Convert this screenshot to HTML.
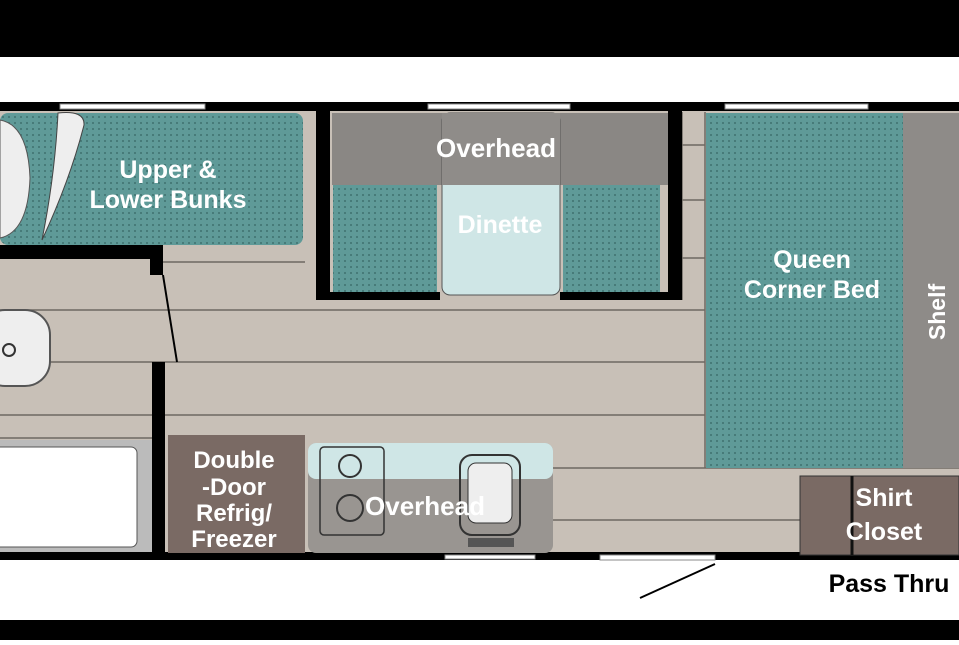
<!DOCTYPE html>
<html><head><meta charset="utf-8"><style>
body{margin:0;width:959px;height:640px;overflow:hidden;background:#fff}
text{font-family:"Liberation Sans",sans-serif;font-weight:bold}
</style></head><body>
<svg width="959" height="640" viewBox="0 0 959 640" xmlns="http://www.w3.org/2000/svg">
<defs>
<pattern id="dots" width="6" height="6" patternUnits="userSpaceOnUse">
<rect width="6" height="6" fill="#5f9a98"/><circle cx="3" cy="3" r="1" fill="#3f716f"/>
</pattern>
</defs>
<rect x="0" y="0" width="959" height="57" fill="#000"/>
<rect x="0" y="620" width="959" height="20" fill="#000"/>
<rect x="0" y="104" width="959" height="454" fill="#c8c0b7"/>
<g stroke="#6e6862" stroke-width="1.5">
<line x1="0" y1="310" x2="705" y2="310"/>
<line x1="0" y1="362" x2="705" y2="362"/>
<line x1="0" y1="415" x2="705" y2="415"/>
<line x1="160" y1="262" x2="305" y2="262"/>
<line x1="0" y1="438" x2="165" y2="438"/>
<line x1="553" y1="468" x2="959" y2="468"/>
<line x1="553" y1="520" x2="800" y2="520"/>
<line x1="682" y1="145" x2="705" y2="145"/>
<line x1="682" y1="200" x2="705" y2="200"/>
<line x1="682" y1="258" x2="705" y2="258"/>
<line x1="682" y1="112" x2="682" y2="300"/>
<line x1="705" y1="112" x2="705" y2="468"/>
</g>
<rect x="0" y="102" width="959" height="9" fill="#000"/>
<rect x="0" y="552" width="959" height="8" fill="#000"/>
<g fill="#fff" stroke="#888" stroke-width="1">
<rect x="60" y="104" width="145" height="5"/>
<rect x="428" y="104" width="142" height="5"/>
<rect x="725" y="104" width="143" height="5"/>
<rect x="600" y="555" width="115" height="5"/>
<rect x="445" y="555" width="90" height="4"/>
</g>
<rect x="0" y="113" width="303" height="132" rx="8" fill="url(#dots)"/>
<path d="M0 120 Q28 125 30 178 Q28 232 0 238 Z" fill="#eee" stroke="#555"/>
<path d="M58 113 Q85 110 84 125 Q70 180 42 240 Q55 175 58 113Z" fill="#eee" stroke="#444"/>
<text x="168" y="178" font-size="25" fill="#fff" text-anchor="middle">Upper &amp;</text>
<text x="168" y="208" font-size="25" fill="#fff" text-anchor="middle">Lower Bunks</text>
<rect x="0" y="245" width="163" height="14" fill="#000"/>
<rect x="150" y="245" width="13" height="30" fill="#000"/>
<line x1="163" y1="275" x2="177" y2="362" stroke="#000" stroke-width="2"/>
<rect x="316" y="104" width="14" height="196" fill="#000"/>
<rect x="316" y="292" width="124" height="8" fill="#000"/>
<rect x="668" y="104" width="14" height="196" fill="#000"/>
<rect x="560" y="292" width="122" height="8" fill="#000"/>
<rect x="332" y="113" width="336" height="72" fill="#8a8784"/>
<rect x="333" y="185" width="104" height="107" fill="url(#dots)"/>
<rect x="563" y="185" width="97" height="107" fill="url(#dots)"/>
<rect x="442" y="113" width="118" height="182" rx="8" fill="#cfe6e6" stroke="#555"/>
<rect x="442" y="113" width="118" height="72" fill="#8f8c89"/>
<text x="496" y="157" font-size="26" fill="#fff" text-anchor="middle">Overhead</text>
<text x="500" y="233" font-size="25" fill="#fff" text-anchor="middle">Dinette</text>
<rect x="706" y="113" width="197" height="355" fill="url(#dots)"/>
<rect x="903" y="113" width="56" height="355" fill="#8e8b88"/>
<text x="812" y="268" font-size="25" fill="#fff" text-anchor="middle">Queen</text>
<text x="812" y="298" font-size="25" fill="#fff" text-anchor="middle">Corner Bed</text>
<text transform="translate(945,312) rotate(-90)" font-size="23" fill="#fff" text-anchor="middle">Shelf</text>
<rect x="800" y="476" width="159" height="79" fill="#7a6a64" stroke="#333"/>
<line x1="852" y1="476" x2="852" y2="555" stroke="#111" stroke-width="3"/>
<text x="884" y="506" font-size="25" fill="#fff" text-anchor="middle">Shirt</text>
<text x="884" y="540" font-size="25" fill="#fff" text-anchor="middle">Closet</text>
<rect x="-20" y="310" width="70" height="76" rx="25" fill="#eee" stroke="#555" stroke-width="2"/>
<circle cx="9" cy="350" r="6" fill="none" stroke="#333" stroke-width="2"/>
<rect x="0" y="440" width="152" height="112" fill="#bbb"/>
<rect x="-10" y="447" width="147" height="100" rx="6" fill="#fff" stroke="#555"/>
<rect x="152" y="362" width="13" height="194" fill="#000"/>
<rect x="168" y="435" width="137" height="118" fill="#7a6a64"/>
<text x="234" y="468" font-size="24" fill="#fff" text-anchor="middle">Double</text>
<text x="234" y="495" font-size="24" fill="#fff" text-anchor="middle">-Door</text>
<text x="234" y="521" font-size="24" fill="#fff" text-anchor="middle">Refrig/</text>
<text x="234" y="547" font-size="24" fill="#fff" text-anchor="middle">Freezer</text>
<rect x="308" y="443" width="245" height="110" rx="8" fill="#999591"/>
<rect x="308" y="443" width="245" height="36" rx="8" fill="#cfe6e6"/>
<rect x="320" y="447" width="64" height="88" rx="4" fill="none" stroke="#333" stroke-width="1.5"/>
<circle cx="350" cy="466" r="11" fill="none" stroke="#333" stroke-width="2"/>
<circle cx="350" cy="508" r="13" fill="none" stroke="#333" stroke-width="2"/>
<rect x="460" y="455" width="60" height="80" rx="12" fill="none" stroke="#333" stroke-width="2"/>
<rect x="468" y="463" width="44" height="60" rx="8" fill="#eee" stroke="#333"/>
<rect x="468" y="538" width="46" height="9" fill="#555"/>
<text x="425" y="515" font-size="26" fill="#fff" text-anchor="middle">Overhead</text>
<line x1="640" y1="598" x2="715" y2="564" stroke="#000" stroke-width="2"/>
<text x="889" y="592" font-size="25" fill="#000" text-anchor="middle">Pass Thru</text>
</svg>
</body></html>
